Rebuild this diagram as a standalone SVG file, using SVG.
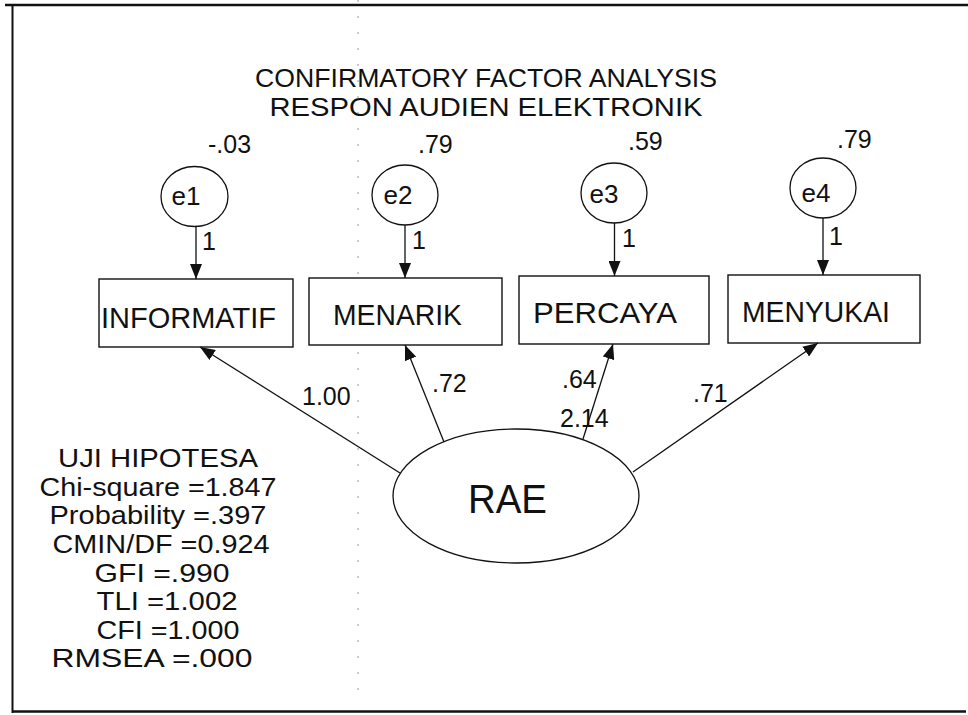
<svg xmlns="http://www.w3.org/2000/svg" width="968" height="715" viewBox="0 0 968 715">
<style>
text{font-family:"Liberation Sans",Arial,sans-serif;fill:#111}
.ttl{font-size:25px;text-anchor:middle}
.num{font-size:25px}
.ev{font-size:26px;text-anchor:middle}
.box{fill:#fff;stroke:#111;stroke-width:1.4}
.lbl{font-size:30px}
.circ{fill:#fff;stroke:#111;stroke-width:1.3}
.conn line{stroke:#111;stroke-width:1.3;fill:none}
.stat{font-size:26px;text-anchor:middle}
</style>
<defs>
<marker id="ah" viewBox="0 0 15 12" refX="15" refY="6" markerWidth="15" markerHeight="12" markerUnits="userSpaceOnUse" orient="auto">
<path d="M0,0 L15,6 L0,12 Z" fill="#111"/>
</marker>
</defs>
<rect width="968" height="715" fill="#fff"/>
<g id="frame" stroke="#111" fill="none">
<line x1="5" y1="5" x2="968" y2="5" stroke-width="2.5"/>
<line x1="12.5" y1="6" x2="12.5" y2="713" stroke-width="2"/>
<line x1="12" y1="711.5" x2="966" y2="711.5" stroke-width="2.5"/>
<line x1="358" y1="0" x2="358" y2="700" stroke="#aaa" stroke-width="1.2" stroke-dasharray="2 14"/>
</g>
<g id="title">
<text class="ttl" x="486" y="87" textLength="462" lengthAdjust="spacingAndGlyphs">CONFIRMATORY FACTOR ANALYSIS</text>
<text class="ttl" x="486" y="116" textLength="433" lengthAdjust="spacingAndGlyphs">RESPON AUDIEN ELEKTRONIK</text>
</g>
<g id="e1">
<ellipse class="circ" cx="194.5" cy="196.5" rx="33.5" ry="30"/>
<text class="ev" x="186" y="205">e1</text>
<text class="num" x="208" y="153">-.03</text>
</g>
<g id="e2">
<ellipse class="circ" cx="405" cy="195" rx="33" ry="30"/>
<text class="ev" x="398" y="204">e2</text>
<text class="num" x="418" y="153">.79</text>
</g>
<g id="e3">
<ellipse class="circ" cx="614" cy="193" rx="33" ry="30"/>
<text class="ev" x="604" y="203">e3</text>
<text class="num" x="628" y="150">.59</text>
</g>
<g id="e4">
<ellipse class="circ" cx="823" cy="188" rx="33" ry="30"/>
<text class="ev" x="816" y="202">e4</text>
<text class="num" x="837" y="148">.79</text>
</g>
<g id="INFORMATIF">
<rect class="box" x="99" y="279" width="194" height="68"/>
<text class="lbl" x="101" y="328" textLength="175" lengthAdjust="spacingAndGlyphs">INFORMATIF</text>
</g>
<g id="MENARIK">
<rect class="box" x="309" y="278" width="193" height="67"/>
<text class="lbl" x="333" y="325" textLength="129" lengthAdjust="spacingAndGlyphs">MENARIK</text>
</g>
<g id="PERCAYA">
<rect class="box" x="519" y="276" width="190" height="68"/>
<text class="lbl" x="533" y="323" textLength="144" lengthAdjust="spacingAndGlyphs">PERCAYA</text>
</g>
<g id="MENYUKAI">
<rect class="box" x="728" y="275" width="192" height="68"/>
<text class="lbl" x="742" y="322" textLength="148" lengthAdjust="spacingAndGlyphs">MENYUKAI</text>
</g>
<g id="RAE">
<ellipse class="circ" cx="516" cy="496" rx="123" ry="67"/>
<text x="468" y="513" style="font-size:40px" textLength="79" lengthAdjust="spacingAndGlyphs">RAE</text>
</g>
<g id="connectors" class="conn">
<line x1="196" y1="226.5" x2="196" y2="279" marker-end="url(#ah)"/>
<line x1="405" y1="225" x2="405" y2="278" marker-end="url(#ah)"/>
<line x1="614.5" y1="223" x2="614.5" y2="276" marker-end="url(#ah)"/>
<line x1="823" y1="218" x2="823" y2="275" marker-end="url(#ah)"/>
<line x1="400" y1="473" x2="200" y2="347" marker-end="url(#ah)"/>
<line x1="444" y1="442" x2="405" y2="345" marker-end="url(#ah)"/>
<line x1="583" y1="439" x2="613" y2="344" marker-end="url(#ah)"/>
<line x1="633" y1="472" x2="818" y2="343" marker-end="url(#ah)"/>
</g>
<g id="labels">
<text class="num" x="202" y="250">1</text>
<text class="num" x="412" y="249">1</text>
<text class="num" x="622" y="247">1</text>
<text class="num" x="829" y="245">1</text>
<text class="num" x="302" y="405">1.00</text>
<text class="num" x="432" y="392">.72</text>
<text class="num" x="562" y="388">.64</text>
<text class="num" x="560" y="427">2.14</text>
<text class="num" x="693" y="402">.71</text>
</g>
<g id="stats">
<text class="stat" x="158" y="467" textLength="200" lengthAdjust="spacingAndGlyphs">UJI HIPOTESA</text>
<text class="stat" x="158" y="496" textLength="237" lengthAdjust="spacingAndGlyphs">Chi-square =1.847</text>
<text class="stat" x="158" y="524" textLength="217" lengthAdjust="spacingAndGlyphs">Probability =.397</text>
<text class="stat" x="161" y="553" textLength="217" lengthAdjust="spacingAndGlyphs">CMIN/DF =0.924</text>
<text class="stat" x="162" y="582" textLength="135" lengthAdjust="spacingAndGlyphs">GFI =.990</text>
<text class="stat" x="167" y="610" textLength="141" lengthAdjust="spacingAndGlyphs">TLI =1.002</text>
<text class="stat" x="168" y="639" textLength="143" lengthAdjust="spacingAndGlyphs">CFI =1.000</text>
<text class="stat" x="152" y="667" textLength="201" lengthAdjust="spacingAndGlyphs">RMSEA =.000</text>
</g>
</svg>
